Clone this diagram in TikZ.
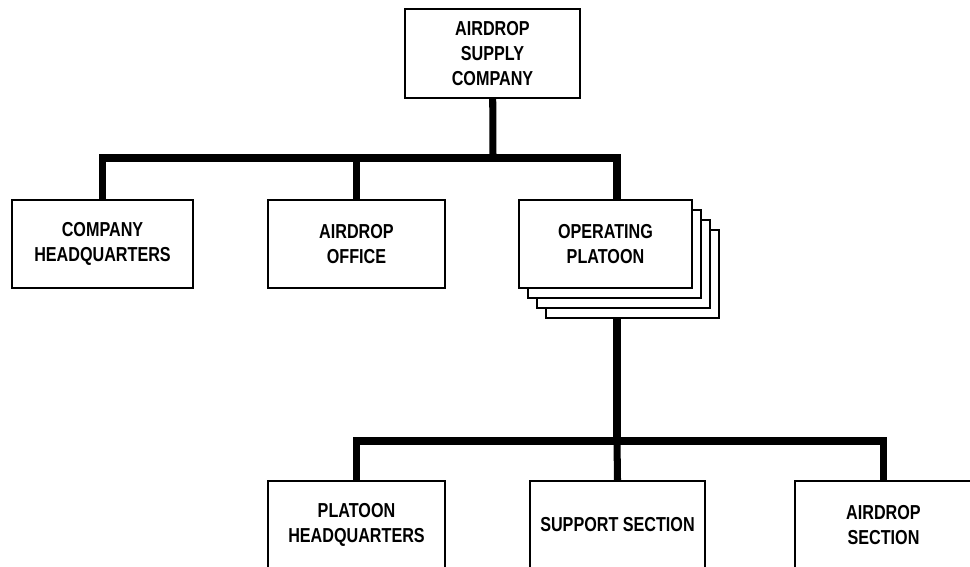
\documentclass[tikz,border=0pt]{standalone}
\usepackage{fontspec}
\setmainfont{Liberation Sans}[FakeStretch=0.8]

\begin{document}
\begin{tikzpicture}[
    x=0.02cm, y=-0.02cm,
    unit/.style={
      rectangle,
      draw,
      line width=1.2pt,
      fill=white,
      minimum width=3.5cm,
      minimum height=1.76cm,
      align=center,
      inner sep=0pt,
      font=\fontsize{11.5}{14.2}\selectfont\bfseries
    },
    bus/.style={
      line width=4pt,
      line join=miter
    }
  ]

  \clip (0, 0) rectangle (970, 566);

  \node[unit, minimum height=1.78cm] (asc) at (492.5, 53.5) {AIRDROP\\SUPPLY\\COMPANY};

  \node[unit, minimum width=3.62cm] (chq) at (102.5, 244) {COMPANY\\HEADQUARTERS};
  \node[unit, minimum width=3.54cm] (ao) at (356.5, 244) {AIRDROP\\OFFICE};

  % platoon stack, back copies first
  \foreach \k in {3, 2, 1} {
    \node[unit, minimum width=3.46cm] (op\k) at (605.5 + 9*\k, 244 + 10*\k) {};
  }
  \node[unit, minimum width=3.46cm] (op) at (605.5, 244) {OPERATING\\PLATOON};

  \node[unit, minimum width=3.54cm] (phq) at (356.5, 525) {PLATOON\\HEADQUARTERS};
  \node[unit] (ss) at (617.5, 525) {SUPPORT SECTION};
  \node[unit, minimum width=3.54cm] (asec) at (883.5, 525) {AIRDROP\\SECTION};

  \coordinate (hub1) at (493, 158);
  \coordinate (opin) at (617, 200);
  \coordinate (opout) at (617, 318);
  \coordinate (hub2) at (617, 441);

  \draw[bus] (asc) -- (hub1);
  \draw[bus] (chq.north) |- (hub1) -| (opin);
  \draw[bus] (ao.north) -- (ao |- hub1);

  \draw[bus] (opout) -- (hub2);
  \draw[bus] (phq.north) |- (hub2) -| (asec.north);
  \draw[bus] (ss.north) -- (hub2);

\end{tikzpicture}
\end{document}
